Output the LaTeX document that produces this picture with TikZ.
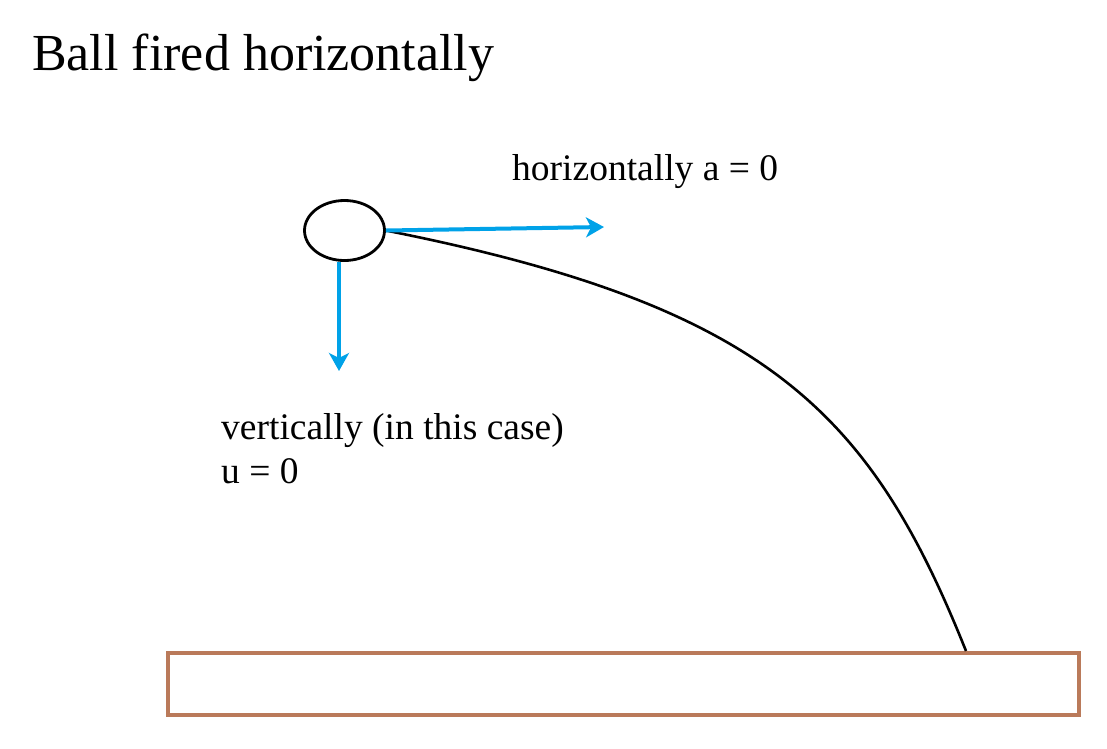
\documentclass[tikz,border=0pt]{standalone}
\usepackage{fontspec}
\setmainfont{Liberation Serif}
\usetikzlibrary{arrows.meta,shapes.geometric}
\definecolor{arrowblue}{RGB}{0,162,232}
\definecolor{groundbrown}{RGB}{186,122,90}
\tikzset{
  lbl/.style={anchor=base west,inner sep=0pt,font=\fontsize{37.5}{44}\selectfont},
  titletext/.style={anchor=base west,inner sep=0pt,font=\fontsize{52}{60}\selectfont},
  vec/.style={draw=arrowblue,line width=4pt,-{Stealth[length=18pt,width=20pt,inset=5pt]}},
  ballshape/.style={draw=black,line width=2.8pt,ellipse,minimum width=80pt,minimum height=60pt,inner sep=0pt},
  path/.style={draw=black,line width=2.6pt},
  groundbox/.style={draw=groundbrown,line width=4pt,fill=white,minimum width=911pt,minimum height=62pt,inner sep=0pt}
}
\begin{document}
\begin{tikzpicture}[x=1pt,y=-1pt]
\useasboundingbox (0,0) rectangle (1107,748);
\node[titletext] (title) at (32,70) {Ball fired horizontally};
\node[lbl] (hlbl) at (512,180) {horizontally a = 0};
\node[lbl] (vlbl) at (221,439) {vertically (in this case)};
\node[lbl] (ulbl) at (221,483) {u = 0};
\node[groundbox] (ground) at (623.5,684) {};
\node[ballshape] (ball) at (344.5,230.5) {};
\coordinate (htip) at (604,227);
\coordinate (vstart) at (339,262);
\coordinate (vtip) at (339,371);
\coordinate (land) at (966,651);
\draw[path] (ball.east) .. controls (766,306) and (870,411) .. (land);
\draw[vec] (ball.east) -- (htip);
\draw[vec] (vstart) -- (vtip);
\end{tikzpicture}
\end{document}
